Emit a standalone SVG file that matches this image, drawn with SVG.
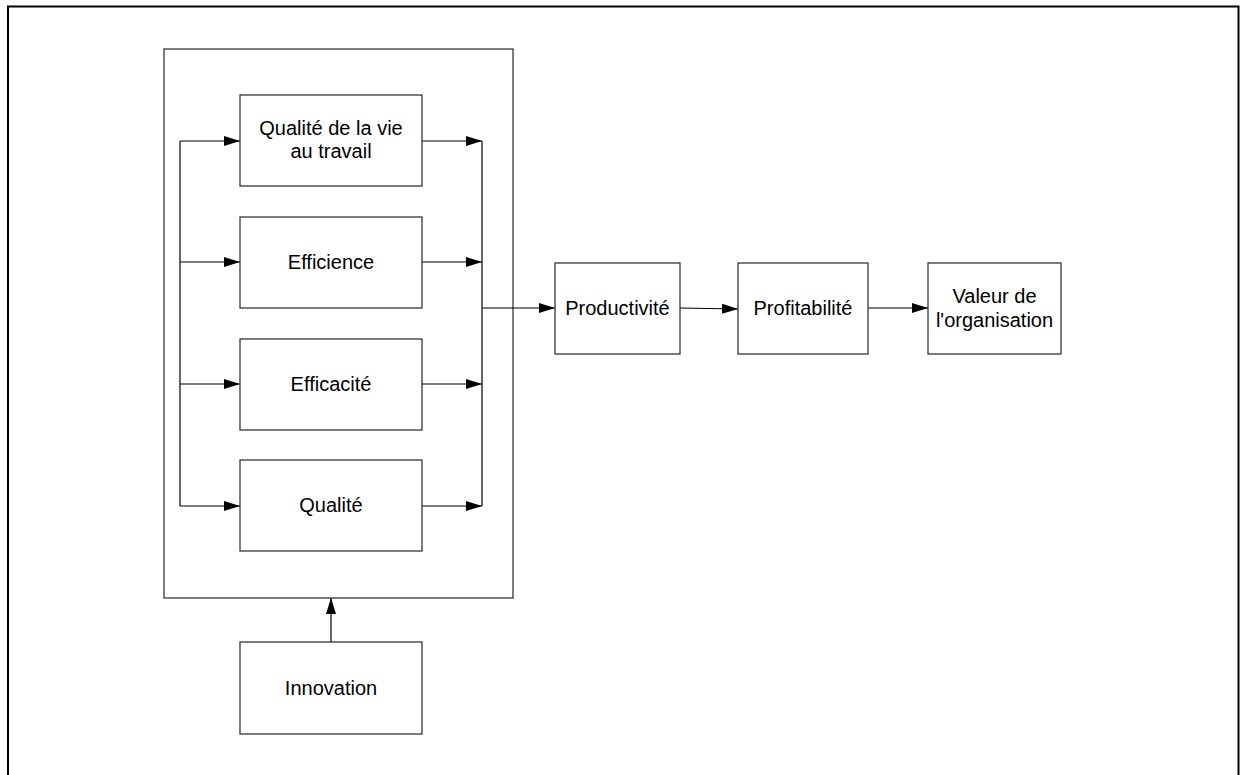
<svg xmlns="http://www.w3.org/2000/svg" width="1243" height="775" viewBox="0 0 1243 775">
<defs>
<style>
.box{fill:#fff;stroke:#262626;stroke-width:1.2}
.frame{fill:none;stroke:#000;stroke-width:2}
.cont{fill:none;stroke:#262626;stroke-width:1.2}
.ln{fill:none;stroke:#000;stroke-width:1.2}
.t{font-family:"Liberation Sans",Arial,sans-serif;font-size:20px;fill:#000;text-anchor:middle}
</style>
<marker id="ah" viewBox="0 0 16 10" refX="16" refY="5" markerWidth="16" markerHeight="10" markerUnits="userSpaceOnUse" orient="auto">
<path d="M0,0 L16,5 L0,10 Z" fill="#000"/>
</marker>
</defs>
<rect width="1243" height="775" fill="#fff"/>
<path class="frame" d="M8,790 V6.5 H1238.5 V790"/>
<g id="container"><rect class="cont" x="164" y="49" width="349" height="549"/></g>
<g id="connectors">
<path class="ln" d="M180,141 V506"/>
<path class="ln" d="M180,141 H240" marker-end="url(#ah)"/>
<path class="ln" d="M180,262 H240" marker-end="url(#ah)"/>
<path class="ln" d="M180,384 H240" marker-end="url(#ah)"/>
<path class="ln" d="M180,506 H240" marker-end="url(#ah)"/>
<path class="ln" d="M482,141 V506"/>
<path class="ln" d="M422,141 H482" marker-end="url(#ah)"/>
<path class="ln" d="M422,262 H482" marker-end="url(#ah)"/>
<path class="ln" d="M422,384 H482" marker-end="url(#ah)"/>
<path class="ln" d="M422,506 H482" marker-end="url(#ah)"/>
<path class="ln" d="M482,308 H555" marker-end="url(#ah)"/>
<path class="ln" d="M680,308 L738,309" marker-end="url(#ah)"/>
<path class="ln" d="M868,308 H928" marker-end="url(#ah)"/>
<path class="ln" d="M331,642 V598" marker-end="url(#ah)"/>
</g>
<g id="qvt"><rect class="box" x="240" y="95" width="182" height="91"/><text class="t" x="331" y="135">Qualité de la vie</text><text class="t" x="331" y="158">au travail</text></g>
<g id="efficience"><rect class="box" x="240" y="217" width="182" height="91"/><text class="t" x="331" y="269">Efficience</text></g>
<g id="efficacite"><rect class="box" x="240" y="339" width="182" height="91"/><text class="t" x="331" y="391">Efficacité</text></g>
<g id="qualite"><rect class="box" x="240" y="460" width="182" height="91"/><text class="t" x="331" y="512">Qualité</text></g>
<g id="productivite"><rect class="box" x="555" y="263" width="125" height="91"/><text class="t" x="617.5" y="315">Productivité</text></g>
<g id="profitabilite"><rect class="box" x="738" y="263" width="130" height="91"/><text class="t" x="803" y="315">Profitabilité</text></g>
<g id="valeur"><rect class="box" x="928" y="263" width="133" height="91"/><text class="t" x="994.5" y="303">Valeur de</text><text class="t" x="994.5" y="327">l'organisation</text></g>
<g id="innovation"><rect class="box" x="240" y="642" width="182" height="92"/><text class="t" x="331" y="695">Innovation</text></g>
</svg>
